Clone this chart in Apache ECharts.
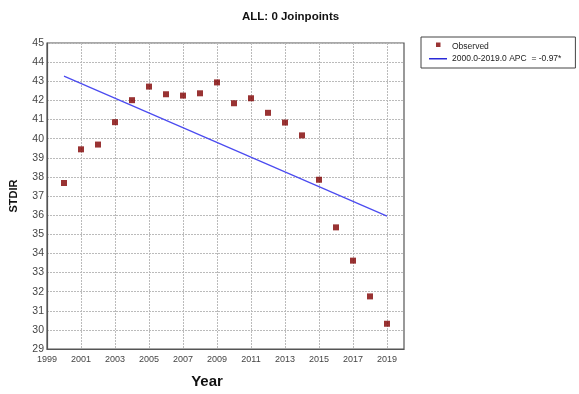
<!DOCTYPE html>
<html>
<head>
<meta charset="utf-8">
<script src="https://cdn.jsdelivr.net/npm/echarts@6/dist/echarts.min.js"></script>
<style>
  html, body { margin: 0; padding: 0; background: #fff; }
  #chart { width: 579px; height: 394px; }
</style>
</head>
<body>
<div id="chart"></div>
<script>
// Year axis categories (axis runs 1999..2020)
const years = ['1999', '2000', '2001', '2002', '2003', '2004', '2005', '2006', '2007', '2008', '2009',
  '2010', '2011', '2012', '2013', '2014', '2015', '2016', '2017', '2018', '2019', '2020'];

// Observed age-standardized incidence rates
const obsYears = ['2000', '2001', '2002', '2003', '2004', '2005', '2006', '2007', '2008', '2009',
  '2010', '2011', '2012', '2013', '2014', '2015', '2016', '2017', '2018', '2019'];
const observed = [37.68, 39.44, 39.69, 40.86, 42.01, 42.72, 42.32, 42.25, 42.37, 42.94,
  41.85, 42.11, 41.35, 40.84, 40.17, 37.85, 35.36, 33.62, 31.75, 30.32];

// Fitted segment endpoints (single segment, 0 joinpoints)
const fitYears = ['2000', '2019'];
const fitted = [43.27, 35.95];

const fitName = '2000.0-2019.0 APC  = -0.97*';
const font = 'Liberation Sans';

// Legend glyphs: tiny corner specks keep the 18x8 box so the shapes are not stretched
const squareIcon = 'path://M0,0h0.05v0.05h-0.05Z M7,0h4.5v4.5h-4.5Z M17.95,7.95h0.05v0.05h-0.05Z';
const lineIcon = 'path://M0,0h0.05v0.05h-0.05Z M0,3.5h18v1.5h-18Z M17.95,7.95h0.05v0.05h-0.05Z';

const chart = echarts.init(document.getElementById('chart'), null, { renderer: 'canvas' });
chart.setOption({
  animation: false,
  backgroundColor: '#fff',
  title: {
    text: 'ALL: 0 Joinpoints',
    left: 237, top: 6,
    textStyle: { fontFamily: font, fontSize: 11.5, fontWeight: 'bold', color: '#111' }
  },
  legend: {
    orient: 'vertical',
    left: 421, top: 37,
    padding: [5, 14, 5, 8],
    itemGap: 3,
    itemWidth: 18, itemHeight: 8,
    borderColor: '#444', borderWidth: 1,
    textStyle: { fontFamily: font, fontSize: 8.5, color: '#222' },
    data: [
      { name: 'Observed', icon: squareIcon },
      { name: fitName, icon: lineIcon }
    ]
  },
  grid: {
    left: 47, right: 175, top: 43, bottom: 43,
    show: true, borderColor: '#555', borderWidth: 1.2
  },
  xAxis: {
    type: 'category',
    data: years,
    boundaryGap: false,
    name: 'Year',
    nameLocation: 'middle',
    nameGap: 25,
    nameTextStyle: { fontFamily: font, fontSize: 15, fontWeight: 'bold', color: '#111', padding: [0, 37, 0, 0] },
    axisLine: { show: true, lineStyle: { color: '#555', width: 1.2 } },
    axisTick: { show: false },
    axisLabel: { interval: 1, fontFamily: font, fontSize: 9, color: '#444', margin: 6 },
    splitLine: { show: true, interval: 1, lineStyle: { color: '#bbb', type: [2, 1], width: 1 } }
  },
  yAxis: {
    type: 'value',
    min: 29, max: 45, interval: 1,
    name: 'STDIR',
    nameLocation: 'middle',
    nameRotate: 90,
    nameGap: 28,
    nameTextStyle: { fontFamily: font, fontSize: 11, fontWeight: 'bold', color: '#111' },
    axisLine: { show: true, lineStyle: { color: '#555', width: 1.2 } },
    axisTick: { show: false },
    axisLabel: { fontFamily: font, fontSize: 10.5, color: '#444', margin: 3 },
    splitLine: { show: true, lineStyle: { color: '#bbb', type: [2, 1], width: 1 } }
  },
  series: [
    {
      name: 'Observed',
      type: 'scatter',
      symbol: 'rect',
      symbolSize: 6,
      itemStyle: { color: '#800000' },
      data: obsYears.map((y, i) => [y, observed[i]]),
      z: 3
    },
    {
      name: fitName,
      type: 'line',
      symbol: 'none',
      lineStyle: { color: '#4b4bf0', width: 1.2 },
      itemStyle: { color: '#2a2ad8' },
      data: fitYears.map((y, i) => [y, fitted[i]]),
      z: 2
    }
  ]
});
</script>
</body>
</html>
